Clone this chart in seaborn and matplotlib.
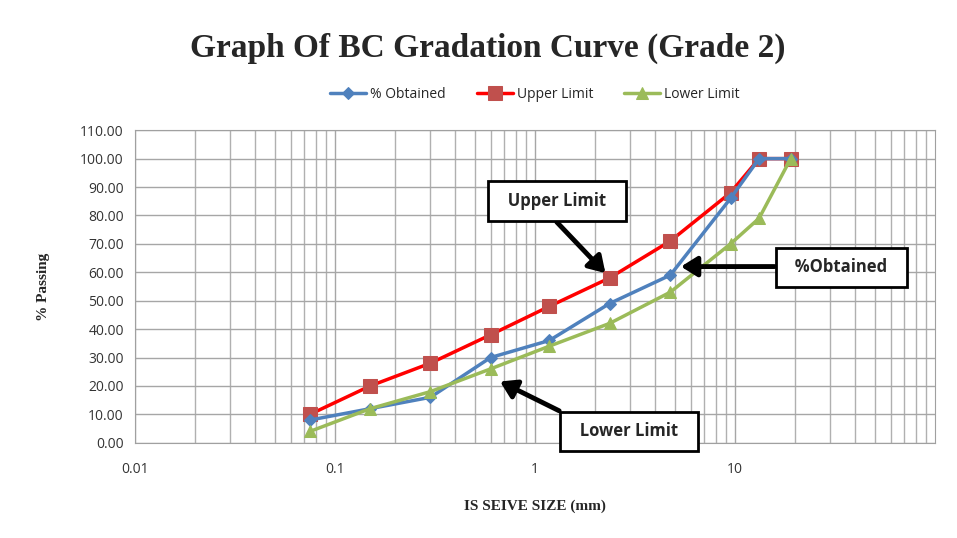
import numpy as np
import pandas as pd
import seaborn as sns
import matplotlib.pyplot as plt
from matplotlib.ticker import FixedLocator, LogLocator, NullFormatter, FormatStrFormatter

# sieve sizes (mm) and % passing
sieve = [0.075, 0.15, 0.3, 0.6, 1.18, 2.36, 4.75, 9.5, 13.2, 19]
obtained = [8, 12, 16, 30, 36, 49, 59, 86, 100, 100]
upper = [10, 20, 28, 38, 48, 58, 71, 88, 100, 100]
lower = [4, 12, 18, 26, 34, 42, 53, 70, 79, 100]

x_ticks = [0.01, 0.1, 1, 10]
x_tick_labels = ["0.01", "0.1", "1", "10"]

sns.set_style("white")
plt.rcParams['font.family'] = ['Open Sans', 'DejaVu Sans']

fig, ax = plt.subplots(figsize=(9.57, 5.38), dpi=100)
fig.subplots_adjust(left=0.141, right=0.977, top=0.758, bottom=0.177)

sns.lineplot(x=sieve, y=obtained, ax=ax, color="#4F81BD", lw=2.5, marker="D",
             markersize=6, markeredgecolor="#4F81BD", label="% Obtained", zorder=4)
sns.lineplot(x=sieve, y=upper, ax=ax, color="#FF0000", lw=2.5, marker="s",
             markersize=10, markerfacecolor="#C0504D", markeredgecolor="#C0504D",
             label="Upper Limit", zorder=3)
sns.lineplot(x=sieve, y=lower, ax=ax, color="#9BBB59", lw=2.5, marker="^",
             markersize=9, markeredgecolor="#9BBB59", label="Lower Limit", zorder=5)

ax.set_xscale("log")
ax.set_xlim(0.01, 100)
ax.set_ylim(0, 110)
ax.xaxis.set_major_locator(FixedLocator(x_ticks))
ax.set_xticklabels(x_tick_labels)
ax.xaxis.set_minor_locator(LogLocator(base=10, subs=np.arange(2, 10)))
ax.xaxis.set_minor_formatter(NullFormatter())
ax.set_yticks(np.arange(0, 111, 10))
ax.yaxis.set_major_formatter(FormatStrFormatter("%.2f"))

ax.grid(which="major", color="#A6A6A6", lw=1.0)
ax.grid(which="minor", axis="x", color="#B0B0B0", lw=1.0)
for s in ax.spines.values():
    s.set_color("#A0A0A0")
ax.tick_params(axis="both", labelsize=10, colors="#333333", length=0, pad=8)
ax.tick_params(axis="x", pad=14)

ax.set_ylabel("% Passing", fontfamily="Liberation Serif", fontweight="bold",
              fontsize=11, labelpad=22)
ax.set_xlabel("IS SEIVE SIZE (mm)", fontfamily="Liberation Serif", fontweight="bold",
              fontsize=11, labelpad=16)
fig.suptitle("Graph Of BC Gradation Curve (Grade 2)", fontfamily="Liberation Serif",
             fontweight="bold", fontsize=24, x=0.51, y=0.94)

ax.legend(loc="lower center", bbox_to_anchor=(0.5, 1.05), ncol=3, frameon=False,
          fontsize=10, handlelength=2.6, columnspacing=2.2, handletextpad=0.3)

box = dict(boxstyle="square,pad=0.65", fc="white", ec="black", lw=2)
def arrow(rel):
    return dict(arrowstyle="-|>,head_length=0.8,head_width=0.5", color="black", lw=3.5,
                shrinkA=0, shrinkB=2, relpos=rel)

ax.annotate("  Upper Limit  ", xy=(2.3, 59), xytext=(1.29, 85), ha="center", va="center",
            fontsize=12, fontweight="bold", bbox=box, arrowprops=arrow((0.4, 0)), zorder=6)
ax.annotate("  %Obtained  ", xy=(5.2, 62), xytext=(34, 61.7), ha="center", va="center",
            fontsize=12, fontweight="bold", bbox=box, arrowprops=arrow((0, 0.55)), zorder=6)
ax.annotate("  Lower Limit  ", xy=(0.65, 22), xytext=(2.95, 4), ha="center", va="center",
            fontsize=12, fontweight="bold", bbox=box, arrowprops=arrow((0.1, 1)), zorder=6,
            annotation_clip=False)

fig.savefig("out.png", dpi=100)
